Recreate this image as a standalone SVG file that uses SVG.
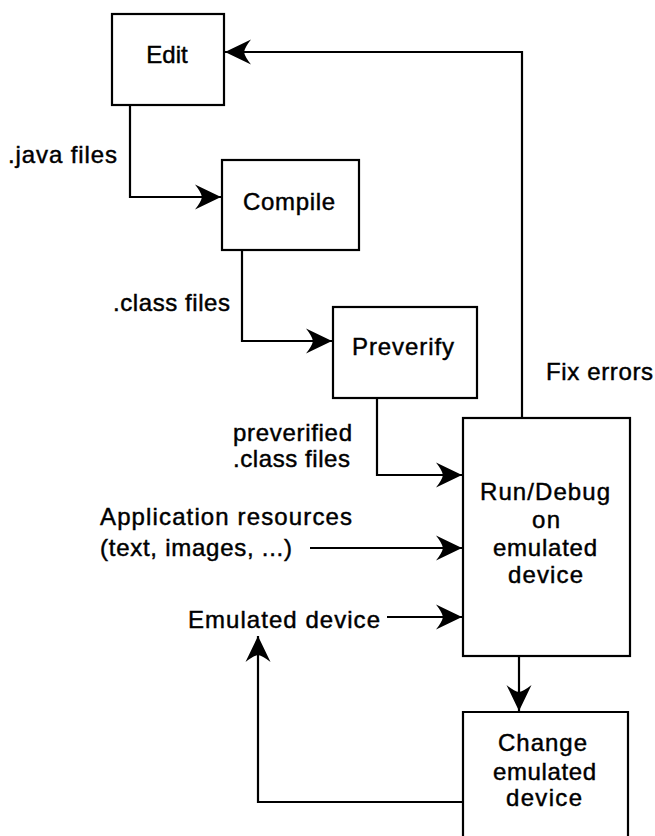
<svg xmlns="http://www.w3.org/2000/svg" width="655" height="836" viewBox="0 0 655 836">
  <style>
    .box { fill: #ffffff; stroke: #000000; stroke-width: 2.2; }
    .wire { fill: none; stroke: #000000; stroke-width: 2.2; }
    .lbl { font-family: "Liberation Sans", Arial, sans-serif; font-size: 24px; fill: #000000; stroke: #000000; stroke-width: 0.45; }
    .mid { text-anchor: middle; }
  </style>
  <defs>
    <!-- barbed, filled arrowhead; tip sits on the path end -->
    <marker id="head" viewBox="0 0 28 26" refX="27" refY="13" markerWidth="28" markerHeight="26" markerUnits="userSpaceOnUse" orient="auto">
      <path d="M27,13 L1,0.5 Q7,8 8,13 Q7,18 1,25.5 Z" fill="#000000"/>
    </marker>
  </defs>

  <rect width="655" height="836" fill="#ffffff"/>

  <g id="connectors">
    <path class="wire" d="M130,105 V197 H221" marker-end="url(#head)"/>
    <path class="wire" d="M242,251 V341 H332" marker-end="url(#head)"/>
    <path class="wire" d="M377,398 V475 H462" marker-end="url(#head)"/>
    <path class="wire" d="M310,548 H462" marker-end="url(#head)"/>
    <path class="wire" d="M387,617 H462" marker-end="url(#head)"/>
    <path class="wire" d="M519,656 V711" marker-end="url(#head)"/>
    <path class="wire" d="M463,802 H258 V636" marker-end="url(#head)"/>
    <path class="wire" d="M522,418 V52 H225" marker-end="url(#head)"/>
  </g>

  <g id="edit">
    <rect class="box" x="112" y="14" width="112" height="91"/>
    <text class="lbl mid" x="167" y="63">Edit</text>
  </g>

  <g id="compile">
    <rect class="box" x="222" y="160" width="137" height="90"/>
    <text class="lbl" x="243" y="210" textLength="92">Compile</text>
  </g>

  <g id="preverify">
    <rect class="box" x="333" y="307" width="144" height="91"/>
    <text class="lbl" x="352" y="355" textLength="102">Preverify</text>
  </g>

  <g id="run-debug">
    <rect class="box" x="463" y="418" width="167" height="238"/>
    <text class="lbl" x="480" y="500" textLength="130">Run/Debug</text>
    <text class="lbl" x="532" y="528" textLength="28">on</text>
    <text class="lbl" x="493" y="556" textLength="104">emulated</text>
    <text class="lbl" x="508" y="583" textLength="75">device</text>
  </g>

  <g id="change-device">
    <path class="box" d="M463,845 V712 H628 V845"/>
    <text class="lbl" x="498" y="751" textLength="89">Change</text>
    <text class="lbl" x="493" y="780" textLength="103">emulated</text>
    <text class="lbl" x="506" y="806" textLength="76">device</text>
  </g>

  <g id="labels">
    <text class="lbl" x="8" y="163" textLength="109">.java files</text>
    <text class="lbl" x="113" y="311" textLength="117">.class files</text>
    <text class="lbl" x="233" y="441" textLength="119">preverified</text>
    <text class="lbl" x="233" y="467" textLength="117">.class files</text>
    <text class="lbl" x="100" y="525" textLength="252">Application resources</text>
    <text class="lbl" x="100" y="556" textLength="192">(text, images, ...)</text>
    <text class="lbl" x="188" y="628" textLength="192">Emulated device</text>
    <text class="lbl" x="546" y="380" textLength="107">Fix errors</text>
  </g>
</svg>
